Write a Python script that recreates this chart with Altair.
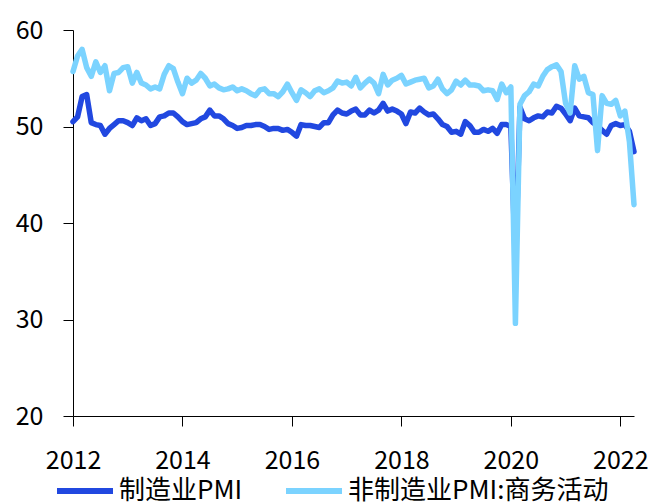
import altair as alt
import pandas as pd

years = list(range(2012, 2023))
manu = {
    2012: [50.5, 51.0, 53.1, 53.3, 50.4, 50.2, 50.1, 49.2, 49.8, 50.2, 50.6, 50.6],
    2013: [50.4, 50.1, 50.9, 50.6, 50.8, 50.1, 50.3, 51.0, 51.1, 51.4, 51.4, 51.0],
    2014: [50.5, 50.2, 50.3, 50.4, 50.8, 51.0, 51.7, 51.1, 51.1, 50.8, 50.3, 50.1],
    2015: [49.8, 49.9, 50.1, 50.1, 50.2, 50.2, 50.0, 49.7, 49.8, 49.8, 49.6, 49.7],
    2016: [49.4, 49.0, 50.2, 50.1, 50.1, 50.0, 49.9, 50.4, 50.4, 51.2, 51.7, 51.4],
    2017: [51.3, 51.6, 51.8, 51.2, 51.2, 51.7, 51.4, 51.7, 52.4, 51.6, 51.8, 51.6],
    2018: [51.3, 50.3, 51.5, 51.4, 51.9, 51.5, 51.2, 51.3, 50.8, 50.2, 50.0, 49.4],
    2019: [49.5, 49.2, 50.5, 50.1, 49.4, 49.4, 49.7, 49.5, 49.8, 49.3, 50.2, 50.2],
    2020: [50.0, 35.7, 52.0, 50.8, 50.6, 50.9, 51.1, 51.0, 51.5, 51.4, 52.1, 51.9],
    2021: [51.3, 50.6, 51.9, 51.1, 51.0, 50.9, 50.4, 50.1, 49.6, 49.2, 50.1, 50.3],
    2022: [50.1, 50.2, 49.5, 47.4],
}
nonmanu = {
    2012: [55.7, 57.3, 58.0, 56.1, 55.2, 56.7, 55.6, 56.3, 53.7, 55.5, 55.6, 56.1],
    2013: [56.2, 54.5, 55.6, 54.5, 54.3, 53.9, 54.1, 53.9, 55.4, 56.3, 56.0, 54.6],
    2014: [53.4, 55.0, 54.5, 54.8, 55.5, 55.0, 54.2, 54.4, 54.0, 53.8, 53.9, 54.1],
    2015: [53.7, 53.9, 53.7, 53.4, 53.2, 53.8, 53.9, 53.4, 53.4, 53.1, 53.6, 54.4],
    2016: [53.5, 52.7, 53.8, 53.5, 53.1, 53.7, 53.9, 53.5, 53.7, 54.0, 54.7, 54.5],
    2017: [54.6, 54.2, 55.1, 54.0, 54.5, 54.9, 54.5, 53.4, 55.4, 54.3, 54.8, 55.0],
    2018: [55.3, 54.4, 54.6, 54.8, 54.9, 55.0, 54.0, 54.2, 54.9, 53.9, 53.4, 53.8],
    2019: [54.7, 54.3, 54.8, 54.3, 54.3, 54.2, 53.7, 53.8, 53.7, 52.8, 54.4, 53.5],
    2020: [54.1, 29.6, 52.3, 53.2, 53.6, 54.4, 54.2, 55.2, 55.9, 56.2, 56.4, 55.7],
    2021: [52.4, 51.4, 56.3, 54.9, 55.2, 53.5, 53.3, 47.5, 53.2, 52.4, 52.3, 52.7],
    2022: [51.1, 51.6, 48.4, 41.9],
}
series_names = ["制造业PMI", "非制造业PMI:商务活动"]
series_colors = ["#2148e0", "#7bd3ff"]
x_ticks = [2012, 2014, 2016, 2018, 2020, 2022]
y_ticks = [20, 30, 40, 50, 60]

def frame(d, name):
    rows = []
    for y in years:
        for m, v in enumerate(d[y]):
            rows.append({"t": y + m / 12.0, "v": v, "s": name})
    return pd.DataFrame(rows)

df1 = frame(manu, series_names[0])
df2 = frame(nonmanu, series_names[1])

color_scale = alt.Scale(domain=series_names, range=series_colors)
xenc = alt.X("t:Q", scale=alt.Scale(domain=[2012, 2022.25], nice=False, zero=False),
             axis=alt.Axis(values=x_ticks, format="d", title=None, labelPadding=22,
                           labelFlush=False))
yenc = alt.Y("v:Q", scale=alt.Scale(domain=[20, 60], nice=False, zero=False),
             axis=alt.Axis(values=y_ticks, title=None, labelPadding=20))

legend = alt.Legend(title=None, orient="none", direction="horizontal",
                    legendX=-19, legendY=430, symbolType="stroke",
                    symbolSize=3136, symbolStrokeWidth=6, labelFontSize=26,
                    labelFont="Noto Sans CJK SC", labelColor="black",
                    columnPadding=31, labelOffset=3, padding=0, labelLimit=400)

def line(df):
    return alt.Chart(df).mark_line(strokeWidth=5.5, strokeCap="round", strokeJoin="round").encode(
        x=xenc, y=yenc, color=alt.Color("s:N", scale=color_scale, legend=legend))

chart = alt.layer(line(df1), line(df2)).properties(
    width=561, height=386,
    autosize=alt.AutoSizeParams(type="none"),
    padding={"left": 73, "top": 30, "right": 17, "bottom": 87},
).configure_view(stroke=None).configure_axis(
    grid=False, domainColor="black", tickColor="black", domainWidth=1, tickWidth=1,
    tickSize=10, labelFontSize=25, labelFont="Noto Sans CJK SC", labelColor="black",
)

chart.save("out.html", embed_options={"renderer": "svg", "actions": False})
